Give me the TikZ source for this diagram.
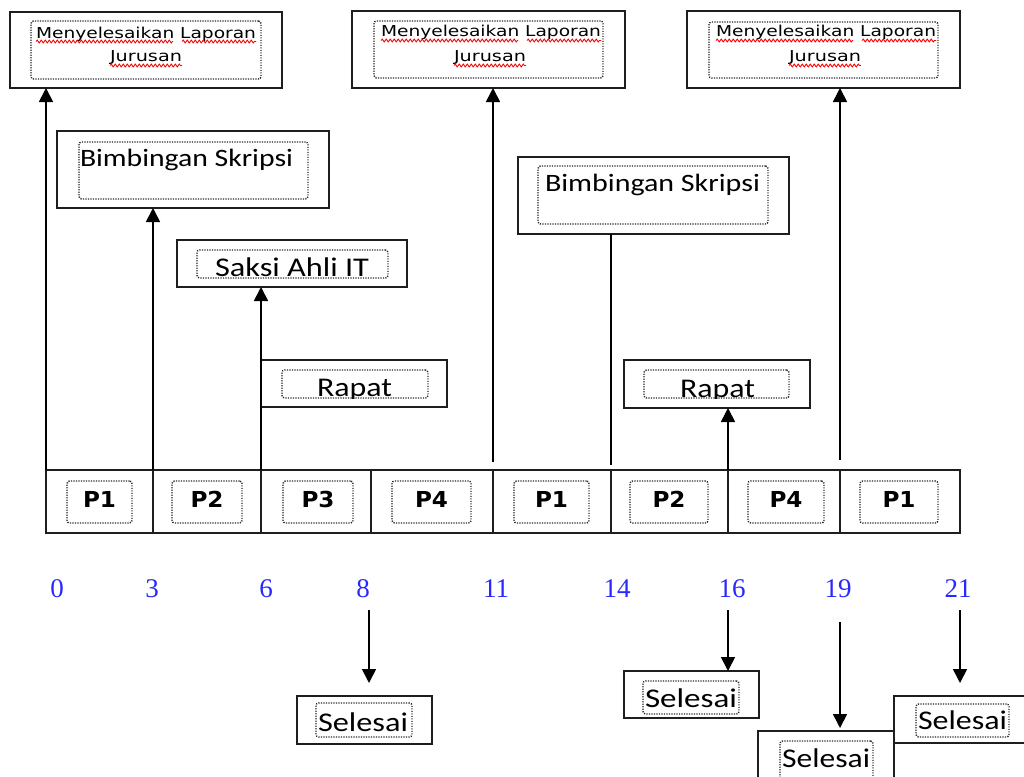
\documentclass[tikz,border=0pt]{standalone}
\usepackage{fontspec}
\usepackage{graphicx}
\usetikzlibrary{arrows.meta,decorations.pathmorphing}
\newfontfamily\calfont{Carlito}
\newfontfamily\dvfont{DejaVu Sans}
\newfontfamily\numfont{Liberation Serif}
\definecolor{numblue}{RGB}{40,40,255}
\definecolor{boxline}{RGB}{30,30,30}
\newcommand\fitw[2]{\resizebox{#1pt}{\height}{#2}}
\newcommand\calA{\calfont\fontsize{25}{29}\selectfont}
\newcommand\calB{\calfont\fontsize{27}{31}\selectfont}
\newcommand\menfont{\dvfont\fontsize{15}{18}\selectfont}
\newcommand\pfnt{\dvfont\bfseries\fontsize{22}{25}\selectfont}
\newcommand\nfnt{\numfont\fontsize{27}{30}\selectfont}
\begin{document}
\begin{tikzpicture}[x=1pt,y=-1pt,
  obox/.style={draw=boxline, line width=1.7pt, rectangle, inner sep=0pt, outer sep=0pt, anchor=north west},
  ibox/.style={draw=black!85, line width=1.4pt, dash pattern=on 1.2pt off 1.3pt, rounded corners=2.5pt, rectangle, inner sep=0pt, outer sep=0pt, anchor=north west},
  lbl/.style={anchor=base west, inner sep=0pt, outer sep=0pt, text=black},
  plbl/.style={anchor=center, inner sep=0pt, text=black, font=\pfnt, yshift=3pt},
  num/.style={anchor=base, inner sep=0pt, text=numblue, font=\nfnt},
  ln/.style={line width=1.7pt, draw=black},
  arr/.style={ln, -{Triangle[width=14pt,length=14pt]}},
  wave/.style={draw=red, line width=0.9pt, decorate, decoration={snake, amplitude=1.4pt, segment length=4pt}}
]
\useasboundingbox (0,0) rectangle (1024,776);
\clip (0,0) rectangle (1024,776);

% ---- top boxes: Menyelesaikan Laporan Jurusan
\node[obox, minimum width=272pt, minimum height=76pt] (t1) at (10,12) {};
\node[ibox, minimum width=230pt, minimum height=58pt] (t1i) at (31,21) {};
\node[obox, minimum width=273pt, minimum height=77pt] (t2) at (352,11) {};
\node[ibox, minimum width=229pt, minimum height=57pt] (t2i) at (374,21) {};
\node[obox, minimum width=273pt, minimum height=77pt] (t3) at (687,11) {};
\node[ibox, minimum width=229pt, minimum height=56pt] (t3i) at (709,22) {};

\node[lbl, font=\menfont] (m1) at (36,38) {\fitw{220}{Menyelesaikan Laporan}};
\node[lbl, font=\menfont] (j1) at (110,62) {\fitw{72}{Jurusan}};
\node[lbl, font=\menfont] (m2) at (381,37) {\fitw{220}{Menyelesaikan Laporan}};
\node[lbl, font=\menfont] (j2) at (454,62) {\fitw{72}{Jurusan}};
\node[lbl, font=\menfont] (m3) at (716,37) {\fitw{220}{Menyelesaikan Laporan}};
\node[lbl, font=\menfont] (j3) at (789,62) {\fitw{72}{Jurusan}};
\foreach \m/\j in {m1/j1,m2/j2,m3/j3}{
  \draw[wave] ([yshift=-3.5pt]\m.base west) -- ++(137,0);
  \draw[wave] ([yshift=-3.5pt,xshift=146pt]\m.base west) -- ++(74,0);
  \draw[wave] ([yshift=-3.5pt]\j.base west) -- ++(72,0);
}

% ---- Bimbingan Skripsi
\node[obox, minimum width=272pt, minimum height=77pt] (b1) at (57,131) {};
\node[ibox, minimum width=229pt, minimum height=57pt] (b1i) at (79,142) {};
\node[lbl, font=\calA] (bt1) at (80,166) {\fitw{213}{Bimbingan Skripsi}};
\node[obox, minimum width=271pt, minimum height=77pt] (b2) at (518,157) {};
\node[ibox, minimum width=230pt, minimum height=58pt] (b2i) at (538,166) {};
\node[lbl, font=\calA] (bt2) at (545,191) {\fitw{215}{Bimbingan Skripsi}};

% ---- Saksi Ahli IT
\node[obox, minimum width=230pt, minimum height=47pt] (s1) at (177,240) {};
\node[lbl, font=\calB] (st1) at (215,276) {\fitw{154}{Saksi Ahli IT}};
\node[ibox, minimum width=191pt, minimum height=28pt] (s1i) at (197,250) {};

% ---- Rapat
\node[obox, minimum width=186pt, minimum height=47pt] (r1) at (261,360) {};
\begin{scope}
  \clip (282,370) rectangle (428,398);
  \node[lbl, font=\calB] (rt1) at (317,396) {\fitw{75}{Rapat}};
\end{scope}
\node[ibox, minimum width=146pt, minimum height=28pt] (r1i) at (282,370) {};
\node[obox, minimum width=186pt, minimum height=48pt] (r2) at (624,360) {};
\begin{scope}
  \clip (644,370) rectangle (789,398);
  \node[lbl, font=\calB] (rt2) at (680,397) {\fitw{75}{Rapat}};
\end{scope}
\node[ibox, minimum width=145pt, minimum height=28pt] (r2i) at (644,370) {};

% ---- row of processes
\node[obox, minimum width=107pt, minimum height=63pt] (c1) at (46,470) {};
\node[obox, minimum width=108pt, minimum height=63pt] (c2) at (153,470) {};
\node[obox, minimum width=110pt, minimum height=63pt] (c3) at (261,470) {};
\node[obox, minimum width=122pt, minimum height=63pt] (c4) at (371,470) {};
\node[obox, minimum width=118pt, minimum height=63pt] (c5) at (493,470) {};
\node[obox, minimum width=117pt, minimum height=63pt] (c6) at (611,470) {};
\node[obox, minimum width=112pt, minimum height=63pt] (c7) at (728,470) {};
\node[obox, minimum width=120pt, minimum height=63pt] (c8) at (840,470) {};

\node[ibox, minimum width=65pt, minimum height=42pt] (p1) at (67,481) {};
\node[ibox, minimum width=70pt, minimum height=42pt] (p2) at (172,481) {};
\node[ibox, minimum width=70pt, minimum height=42pt] (p3) at (283,481) {};
\node[ibox, minimum width=79pt, minimum height=42pt] (p4) at (392,481) {};
\node[ibox, minimum width=75pt, minimum height=42pt] (p5) at (514,481) {};
\node[ibox, minimum width=78pt, minimum height=42pt] (p6) at (630,481) {};
\node[ibox, minimum width=76pt, minimum height=42pt] (p7) at (748,481) {};
\node[ibox, minimum width=78pt, minimum height=42pt] (p8) at (860,481) {};
\foreach \p/\t in {p1/P1,p2/P2,p3/P3,p4/P4,p5/P1,p6/P2,p7/P4,p8/P1}{
  \node[plbl] (\p t) at (\p.center) {\fitw{33}{\t}};
}

% ---- time labels
\node[num] (n0) at (57,597) {0};
\node[num] (n3) at (152,597) {3};
\node[num] (n6) at (266,597) {6};
\node[num] (n8) at (363,597) {8};
\node[num] (n11) at (496,597) {11};
\node[num] (n14) at (617,597) {14};
\node[num] (n16) at (732,597) {16};
\node[num] (n19) at (838,597) {19};
\node[num] (n21) at (958,597) {21};

% ---- Selesai boxes
\node[obox, minimum width=135pt, minimum height=48pt] (e1) at (297,696) {};
\node[lbl, font=\calB] (et1) at (318,731) {\fitw{90}{Selesai}};
\node[ibox, minimum width=96pt, minimum height=34pt] (e1i) at (316,703) {};
\node[obox, minimum width=135pt, minimum height=47pt] (e2) at (624,671) {};
\node[lbl, font=\calB] (et2) at (645,707) {\fitw{92}{Selesai}};
\node[ibox, minimum width=96pt, minimum height=33pt] (e2i) at (643,681) {};
\node[obox, minimum width=136pt, minimum height=69pt] (e3) at (758,731) {};
\node[lbl, font=\calB] (et3) at (782,767) {\fitw{88}{Selesai}};
\node[ibox, minimum width=93pt, minimum height=50pt] (e3i) at (780,741) {};
\node[obox, minimum width=146pt, minimum height=47pt] (e4) at (894,696) {};
\node[lbl, font=\calB] (et4) at (918,729) {\fitw{89}{Selesai}};
\node[ibox, minimum width=93pt, minimum height=33pt] (e4i) at (916,704) {};

% ---- connectors up
\draw[arr] (c1.north west) -- (c1.north west |- t1.south);
\draw[arr] (c2.north west) -- (c2.north west |- b1.south);
\draw[arr] (c3.north west) -- (c3.north west |- s1.south);
\draw[arr, shorten <=8pt] (c5.north west) -- (c5.north west |- t2.south);
\draw[ln, shorten >=5pt] (c6.north west |- b2.south) -- (c6.north west);
\draw[arr] (c7.north west) -- (c7.north west |- r2.south);
\draw[arr, shorten <=10pt] (c8.north west) -- (c8.north west |- t3.south);

% ---- connectors down
\coordinate (d8) at (369,610);
\coordinate (d16) at (728,610);
\coordinate (d19) at (840,622);
\coordinate (d21) at (960,610);
\draw[arr, shorten >=13pt] (d8) -- (d8 |- e1.north);
\draw[arr] (d16) -- (d16 |- e2.north);
\draw[arr, shorten >=3pt] (d19) -- (d19 |- e3.north);
\draw[arr, shorten >=13pt] (d21) -- (d21 |- e4.north);
\end{tikzpicture}
\end{document}
